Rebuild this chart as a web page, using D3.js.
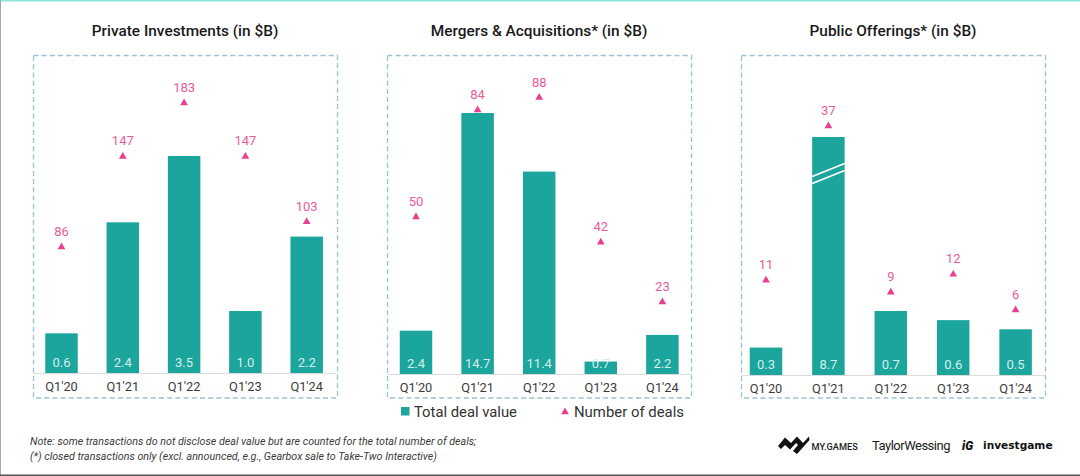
<!DOCTYPE html>
<html><head><meta charset="utf-8">
<script src="https://cdn.jsdelivr.net/npm/d3@7"></script>
<style>html,body{margin:0;padding:0;background:#fff;overflow:hidden}svg{display:block;font-family:Roboto,sans-serif}</style>
</head><body><svg id="c" width="1080" height="476"></svg>
<script>
const quarters = ["Q1'20","Q1'21","Q1'22","Q1'23","Q1'24"];
const privateValue = [0.64,2.43,3.5,1.0,2.2];
const privateDeals = [86,147,183,147,103];
const maValue = [2.44,14.7,11.4,0.7,2.2];
const maDeals = [50,84,88,42,23];
const publicValue = [0.3,8.7,0.7,0.6,0.5];
const publicDeals = [11,37,9,12,6];
const titles = ["Private Investments (in $B)","Mergers & Acquisitions* (in $B)","Public Offerings* (in $B)"];
const legendLabels = ["Total deal value","Number of deals"];
const notes = ["Note: some transactions do not disclose deal value but are counted for the total number of deals;","(*) closed transactions only (excl. announced, e.g., Gearbox sale to Take-Two Interactive)"];

const TEAL="#1ca59d", PINK="#e8408f", PINKT="#ea5b9c";
const svg=d3.select("#c");
// page edges
svg.append("rect").attr("x",0).attr("y",0).attr("width",1080).attr("height",1.5).attr("fill","#8fe6d8");
svg.append("rect").attr("x",0).attr("y",0).attr("width",1).attr("height",476).attr("fill","#a8a8a8");
svg.append("rect").attr("x",0).attr("y",474.5).attr("width",1080).attr("height",1.5).attr("fill","#555");

const panels=[
 {title:titles[0],vals:privateValue,deals:privateDeals,x0:33,x1:337,base:373,
  y:d3.scaleLinear().domain([0,3.5]).range([373,156]),
  d:d3.scaleLinear().domain([86,183]).range([247,103]),cx0:61.5,step:61.3},
 {title:titles[1],vals:maValue,deals:maDeals,x0:387,x1:691,base:374,
  y:d3.scaleLinear().domain([0,14.7]).range([374,113]),
  d:d3.scaleLinear().domain([23,88]).range([302,97.5]),cx0:416,step:61.6},
 {title:titles[2],vals:publicValue,deals:publicDeals,x0:741,x1:1045,base:375,
  y:d3.scaleLinear().domain([0,0.7,8.7]).range([375,311,137]),
  d:d3.scaleLinear().domain([6,37]).range([310,126]),cx0:766,step:62.4,brk:1}
];
panels.forEach(p=>{
  const g=svg.append("g");
  const cxs=quarters.map((_,i)=>p.cx0+i*p.step);
  const x=d3.scalePoint().domain(quarters).range([cxs[0],cxs[4]]);
  const bw=32.5;
  g.append("text").attr("x",(p.x0+p.x1)/2).attr("y",36).attr("text-anchor","middle")
   .attr("font-size",15.4).attr("font-weight",500).attr("fill","#1a1a1a").text(p.title);
  g.append("rect").attr("x",p.x0+.5).attr("y",55.5).attr("width",p.x1-p.x0).attr("height",342.5)
   .attr("fill","none").attr("stroke","#9cc3d1").attr("stroke-width",1.3).attr("stroke-dasharray","5 3.2");
  g.selectAll(".b").data(p.vals).join("rect").attr("x",(d,i)=>x(quarters[i])-bw/2).attr("width",bw)
   .attr("y",d=>p.y(d)).attr("height",d=>p.base-p.y(d)).attr("fill",TEAL);
  if(p.brk){
    const bx=x(quarters[1]);
    [0,7].forEach(o=>{
      g.append("line").attr("x1",bx-bw/2).attr("x2",bx+bw/2).attr("y1",176.5+o).attr("y2",163.5+o)
       .attr("stroke","#fff").attr("stroke-width",1.8);
    });
  }
  g.append("line").attr("x1",p.x0+.5).attr("x2",p.x1+.5).attr("y1",p.base+.5).attr("y2",p.base+.5)
   .attr("stroke","#dcdcdc").attr("stroke-width",1.2);
  g.selectAll(".v").data(p.vals).join("text").attr("x",(d,i)=>x(quarters[i])).attr("y",p.base-6)
   .attr("text-anchor","middle").attr("font-size",13).attr("fill","#d3efec").text(d=>d.toFixed(1));
  g.selectAll(".q").data(quarters).join("text").attr("x",d=>x(d)).attr("y",p.base+18)
   .attr("text-anchor","middle").attr("font-size",12.8).attr("fill","#3c3c3c").text(d=>d);
  g.selectAll(".t").data(p.deals).join("path").attr("d",d3.symbol(d3.symbolTriangle,26))
   .attr("transform",(d,i)=>`translate(${x(quarters[i])},${p.d(d)})`).attr("fill",PINK);
  g.selectAll(".n").data(p.deals).join("text").attr("x",(d,i)=>x(quarters[i])).attr("y",d=>p.d(d)-11)
   .attr("text-anchor","middle").attr("font-size",13).attr("fill",PINKT).text(d=>d);
});
// legend
svg.append("rect").attr("x",401).attr("y",407).attr("width",8.5).attr("height",8.5).attr("fill",TEAL);
svg.append("text").attr("x",414).attr("y",416.5).attr("font-size",14.8).attr("fill","#333").text(legendLabels[0]);
svg.append("path").attr("d",d3.symbol(d3.symbolTriangle,26)).attr("transform","translate(565,412)").attr("fill",PINK);
svg.append("text").attr("x",574).attr("y",416.5).attr("font-size",14.9).attr("fill","#333").text(legendLabels[1]);
// notes
svg.selectAll(".note").data(notes).join("text").attr("x",30).attr("y",(d,i)=>445+i*14.7)
 .attr("font-size",10.7).attr("font-style","italic").attr("fill","#3a3a3a").text(d=>d);
// logos
svg.append("path").attr("d","M778 446 L785 437.5 L791 443 L797 436.5 L803 443 L809 436.5 L809.5 440 L797 454 L793 451 L798 445 L796 443 L790 449.5 L785 445 L781 449 Z").attr("fill","#111");
svg.append("text").attr("x",811.5).attr("y",449.5).attr("font-size",9.2).attr("font-weight",500).attr("fill","#222").text("MY.GAMES");
svg.append("text").attr("x",872).attr("y",449.5).attr("font-size",13).attr("letter-spacing",-0.5).attr("fill","#222").text("TaylorWessing");
svg.append("text").attr("x",962).attr("y",449.5).attr("font-size",12).attr("font-weight",900).attr("font-style","italic").attr("fill","#111").text("iG");
svg.append("text").attr("x",983).attr("y",448.5).attr("font-size",10.6).attr("font-weight",700).attr("font-family","DejaVu Sans,sans-serif").attr("fill","#111").text("investgame");
</script></body></html>
